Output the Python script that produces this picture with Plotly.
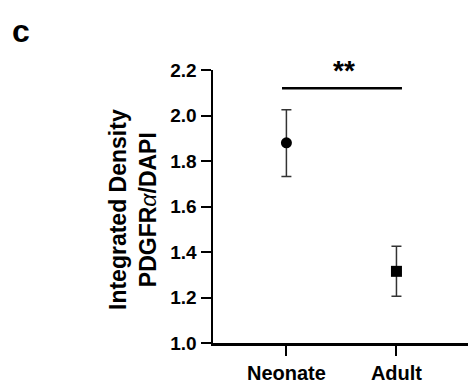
import plotly.graph_objects as go

groups = ["Neonate", "Adult"]
means = [1.88, 1.315]
err_plus = [0.145, 0.11]
err_minus = [0.148, 0.11]
symbols = ["circle", "square"]
y_ticks = [1.0, 1.2, 1.4, 1.6, 1.8, 2.0, 2.2]
sig_label = "**"
sig_y = 2.12

W, H = 469, 385
L, R, T, B = 213, 1, 70, 40
PW, PH = W - L - R, H - T - B

xpos = list(range(len(groups)))
fig = go.Figure()
for i, g in enumerate(groups):
    fig.add_trace(go.Scatter(
        x=[xpos[i]], y=[means[i]], mode="markers",
        marker=dict(symbol=symbols[i], size=11, color="black"),
        error_y=dict(type="data", symmetric=False, array=[err_plus[i]],
                     arrayminus=[err_minus[i]], color="#333333",
                     thickness=1.5, width=5),
        showlegend=False, name=g, hoverinfo="skip"))

font = "Liberation Sans, Arial, sans-serif"
fig.update_layout(
    width=W, height=H,
    margin=dict(l=L, r=R, t=T, b=B),
    plot_bgcolor="white", paper_bgcolor="white",
    font=dict(family=font, color="black"),
    hovermode=False,
    xaxis=dict(range=[-0.667, 1.65], tickmode="array", tickvals=xpos,
               ticktext=[f"<b>{g}</b>" for g in groups],
               showline=True, linecolor="black", linewidth=2.5,
               ticks="outside", ticklen=10, tickwidth=2, tickcolor="black",
               showgrid=False, zeroline=False,
               tickfont=dict(size=20, family=font)),
    yaxis=dict(range=[1.0, 2.2], tickmode="array", tickvals=y_ticks,
               ticktext=[f"<b>{v:.1f}</b>" for v in y_ticks],
               showline=True, linecolor="black", linewidth=2.5,
               ticks="outside", ticklen=10, tickwidth=2, tickcolor="black",
               showgrid=False, zeroline=False,
               tickfont=dict(size=19, family=font)),
)

# y-axis title
fig.add_annotation(xref="paper", yref="paper",
                   x=(133 - L) / PW, y=(H - B - 211) / PH,
                   xanchor="center", yanchor="middle", textangle=-90,
                   text="<b>Integrated Density</b><br><b>PDGFR</b><i>α</i><b>/DAPI</b>",
                   showarrow=False, font=dict(size=23, family=font, color="black"))

fig.add_shape(type="line", xref="x", yref="y", x0=-0.04, x1=1.05,
              y0=sig_y, y1=sig_y, line=dict(color="black", width=2.5))
fig.add_annotation(xref="x", yref="paper", x=0.52, y=(H - B - 70) / PH,
                   text=f"<b>{sig_label}</b>", showarrow=False,
                   xanchor="center", yanchor="middle",
                   font=dict(size=28, family=font, color="black"))
fig.add_annotation(xref="paper", yref="paper",
                   x=(21 - L) / PW, y=(H - B - 31) / PH,
                   xanchor="center", yanchor="middle", text="<b>c</b>",
                   showarrow=False, font=dict(size=32, family=font, color="black"))

fig.write_html("out.html", config={"displayModeBar": False, "staticPlot": True},
               post_script="document.body.style.margin='0';")
